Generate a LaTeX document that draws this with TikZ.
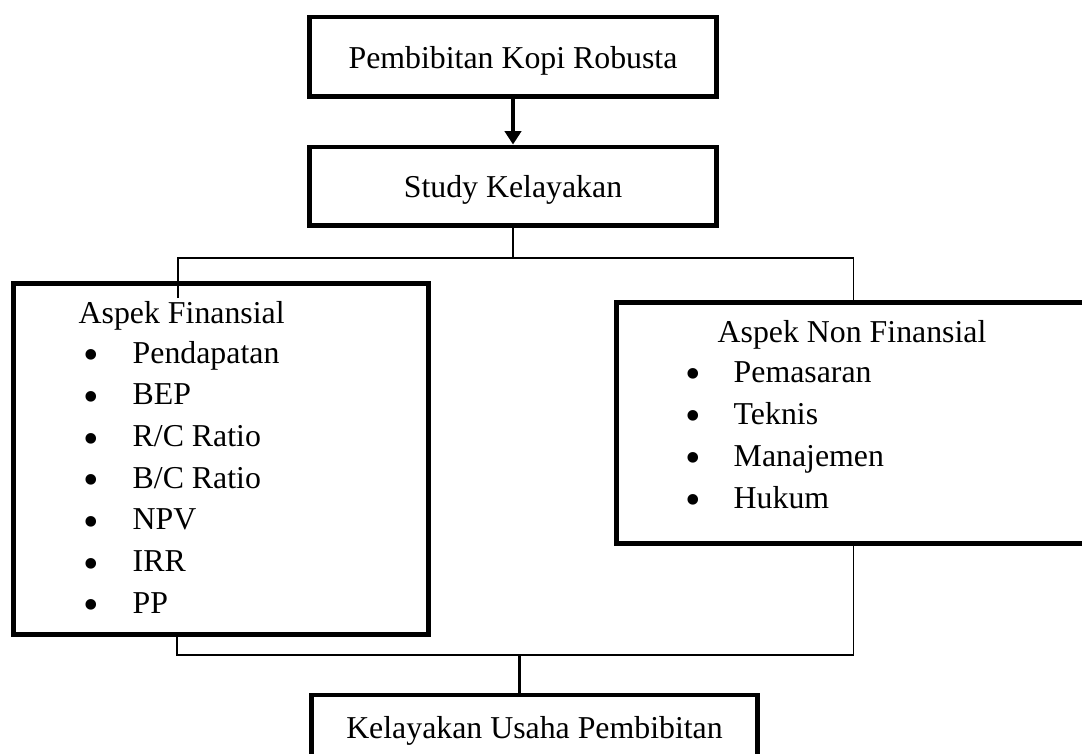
\documentclass[tikz,border=0pt]{standalone}
\usepackage{fontspec}
\setmainfont{Liberation Serif}
\usetikzlibrary{arrows.meta}

\tikzset{
  kotak/.style={draw, line width=1.4pt, inner sep=0pt, text height=0.23cm, text depth=0pt},
  garis/.style={line width=0.55pt},
  teks/.style={anchor=base west, inner sep=0pt},
  titik/.style={anchor=base, inner sep=0pt, font=\fontsize{12.6}{14}\selectfont},
}

\begin{document}
\begin{tikzpicture}[x=0.01cm, y=-0.01cm, font=\fontsize{9.05}{10.9}\selectfont]
        \useasboundingbox (0,0) rectangle (1082,753);
        \clip (0,0) rectangle (1082,753);

        % kotak utama
        \node[kotak, minimum width=4.06cm, minimum height=0.79cm] (pembibitan) at (513,56.5) {Pembibitan Kopi Robusta};
        \node[kotak, minimum width=4.06cm, minimum height=0.78cm] (studi) at (513,186) {Study Kelayakan};
        \node[kotak, minimum width=4.14cm, minimum height=3.50cm] (finansial) at (221,459) {};
        \node[kotak, minimum width=4.73cm, minimum height=2.40cm] (nonfinansial) at (853.5,423) {};
        \node[kotak, minimum width=4.45cm, minimum height=0.80cm, text depth=0.17cm] (kelayakan) at (534.5,735) {Kelayakan Usaha Pembibitan};

        % isi aspek finansial
        \node[teks] (judulFin) at (78,323) {Aspek Finansial};
        \foreach \nama [count=\i from 0] in {Pendapatan, BEP, R/C Ratio, B/C Ratio, NPV, IRR, PP} {
            \node[titik] (titikFin\i) at (91,{369.7+41.7*\i}) {\textbullet};
            \node[teks] (fin\i) at (132,{363+41.7*\i}) {\nama};
        }

        % isi aspek non finansial
        \node[teks] (judulNon) at (717,342) {Aspek Non Finansial};
        \foreach \nama [count=\i from 0] in {Pemasaran, Teknis, Manajemen, Hukum} {
            \node[titik] (titikNon\i) at (693,{388.2+42*\i}) {\textbullet};
            \node[teks] (non\i) at (733,{382+42*\i}) {\nama};
        }

        % penghubung
        \draw[line width=1pt, -{Triangle[length=3.8pt, width=4.6pt]}] (pembibitan.south) -- (studi.north);

        \coordinate (atasKiri) at (178,258);
        \coordinate (atasKanan) at (853.5,258);
        \coordinate (tapKiri) at (178,298);
        \draw[garis] (studi.south) -- (studi.south |- atasKiri);
        \draw[garis] (tapKiri) -- (atasKiri) -- (atasKanan) -- (nonfinansial.north);

        \coordinate (bawahKiri) at (177,655);
        \coordinate (bawahKanan) at (853.5,655);
        \coordinate (bawahTengah) at (519,655);
        \draw[garis] (finansial.south -| bawahKiri) -- (bawahKiri) -- (bawahKanan) -- (nonfinansial.south);
        \draw[line width=0.85pt] (bawahTengah) -- (bawahTengah |- kelayakan.north);
\end{tikzpicture}
\end{document}
